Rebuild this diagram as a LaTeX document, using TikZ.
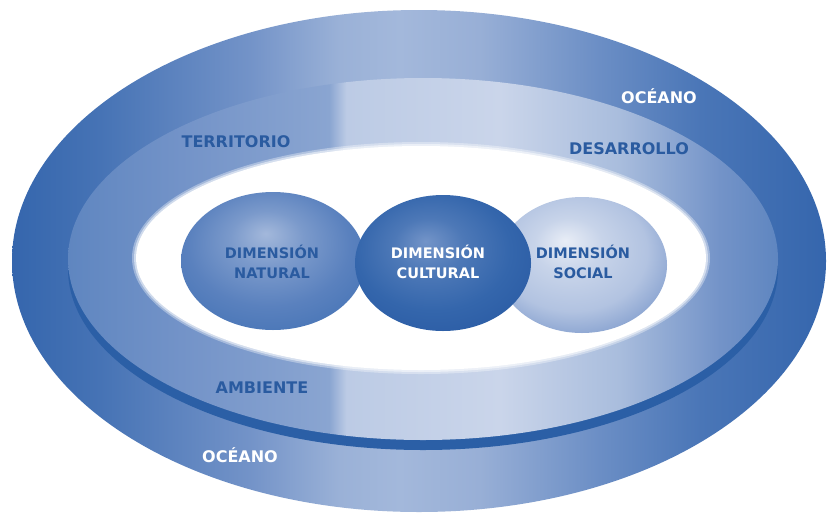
\documentclass[tikz,border=0pt]{standalone}
\usepackage{fontspec}
\setmainfont{DejaVu Sans}
\definecolor{oc0}{HTML}{3566AD}
\definecolor{oc1}{HTML}{4673B5}
\definecolor{oc2}{HTML}{7393C8}
\definecolor{oc3}{HTML}{9AB1D7}
\definecolor{oc4}{HTML}{A3B8DB}
\definecolor{oc5}{HTML}{98AFD6}
\definecolor{oc6}{HTML}{6B8EC5}
\definecolor{oc7}{HTML}{4A76B7}
\definecolor{md0}{HTML}{5F86C0}
\definecolor{md1}{HTML}{7393C8}
\definecolor{md2}{HTML}{8AA5D1}
\definecolor{md3}{HTML}{BCCBE5}
\definecolor{md4}{HTML}{CAD5EA}
\definecolor{md5}{HTML}{A9BDDD}
\definecolor{md6}{HTML}{7393C8}
\definecolor{rimc}{HTML}{2B5FA6}
\definecolor{txtc}{HTML}{2A5BA0}
\definecolor{natH}{HTML}{A3B8DB}
\definecolor{natM}{HTML}{5A81BE}
\definecolor{natD}{HTML}{4674B6}
\definecolor{culH}{HTML}{7394C8}
\definecolor{culM}{HTML}{3466AC}
\definecolor{culD}{HTML}{2A5BA4}
\definecolor{socH}{HTML}{E8EDF6}
\definecolor{socM}{HTML}{B2C3E1}
\definecolor{socD}{HTML}{7C99CB}
\pgfdeclarehorizontalshading{oceanshade}{100bp}{color(0bp)=(oc0); color(25bp)=(oc0); color(30.4bp)=(oc1); color(39.6bp)=(oc2); color(45.1bp)=(oc3); color(48.8bp)=(oc4); color(53.7bp)=(oc5); color(61.1bp)=(oc6); color(67.3bp)=(oc7); color(75bp)=(oc0); color(100bp)=(oc0)}
\pgfdeclarehorizontalshading{bandshade}{100bp}{color(0bp)=(md0); color(25bp)=(md0); color(33bp)=(md1); color(43.4bp)=(md2); color(44.6bp)=(md3); color(55.4bp)=(md4); color(63.8bp)=(md5); color(70.9bp)=(md6); color(75bp)=(md0); color(100bp)=(md0)}
\pgfdeclareradialshading{natball}{\pgfpoint{-2bp}{10bp}}{color(0bp)=(natH); color(10bp)=(natH!45!natM); color(22bp)=(natM); color(33bp)=(natD); color(50bp)=(natD)}
\pgfdeclareradialshading{culball}{\pgfpoint{-5bp}{8bp}}{color(0bp)=(culH); color(10bp)=(culH!40!culM); color(22bp)=(culM); color(33bp)=(culD); color(50bp)=(culD)}
\pgfdeclareradialshading{socball}{\pgfpoint{-5bp}{9bp}}{color(0bp)=(socH); color(10bp)=(socH!40!socM); color(22bp)=(socM); color(33bp)=(socD); color(50bp)=(socD)}
\tikzset{
  ringlbl/.style={font=\bfseries\fontsize{16}{19}\selectfont, inner sep=0pt},
  dimlbl/.style={font=\bfseries\fontsize{14.5}{19.5}\selectfont, align=center, inner sep=0pt},
}
\begin{document}
\begin{tikzpicture}[x=1pt,y=-1pt]
\useasboundingbox (0,0) rectangle (829,517);
\fill[white] (0,0) rectangle (829,517);
% outer ocean ellipse
\shade[shading=oceanshade] (419,261) ellipse [x radius=407, y radius=251];
% rim and middle band
\fill[rimc] (423,269) ellipse [x radius=355, y radius=181];
\shade[shading=bandshade] (423,259) ellipse [x radius=355, y radius=181];
% inner white ellipse with soft edge
\fill[white, opacity=0.35] (421,258) ellipse [x radius=289, y radius=116];
\fill[white, opacity=0.5] (421,258) ellipse [x radius=287, y radius=114];
\fill[white] (421,258) ellipse [x radius=285, y radius=112];
% spheres
\shade[shading=natball] (273,261) ellipse [x radius=92, y radius=69];
\shade[shading=socball] (582,265) ellipse [x radius=85, y radius=68];
\shade[shading=culball] (443,263) ellipse [x radius=88, y radius=68];
% labels
\node[ringlbl, text=white] (oceanTop) at (659,96) {OCÉANO};
\node[ringlbl, text=txtc] (territorio) at (236,142) {TERRITORIO};
\node[ringlbl, text=txtc] (desarrollo) at (629,149) {DESARROLLO};
\node[ringlbl, text=txtc] (ambiente) at (262,388) {AMBIENTE};
\node[ringlbl, text=white] (oceanBot) at (240,455) {OCÉANO};
\node[dimlbl, text=txtc] (natural) at (272,262) {DIMENSIÓN\\NATURAL};
\node[dimlbl, text=white] (cultural) at (438,262) {DIMENSIÓN\\CULTURAL};
\node[dimlbl, text=txtc] (social) at (583,262) {DIMENSIÓN\\SOCIAL};
\end{tikzpicture}
\end{document}
